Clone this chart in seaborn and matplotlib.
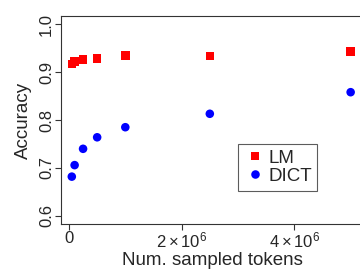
import matplotlib
matplotlib.use("Agg")
import matplotlib.pyplot as plt
import seaborn as sns
import pandas as pd

# data
tokens = [50000, 100000, 250000, 500000, 1000000, 2500000, 5000000]
lm_acc = [0.917, 0.922, 0.926, 0.928, 0.935, 0.933, 0.943]
dict_acc = [0.682, 0.706, 0.740, 0.764, 0.785, 0.813, 0.858]
x_ticks = [0, 2000000, 4000000]
x_ticklabels = ["0", r"$2\times10^6$", r"$4\times10^6$"]
y_ticks = [0.6, 0.7, 0.8, 0.9, 1.0]

df = pd.concat([
    pd.DataFrame({"tokens": tokens, "acc": lm_acc, "method": "LM"}),
    pd.DataFrame({"tokens": tokens, "acc": dict_acc, "method": "DICT"}),
])

sns.set_style("ticks")
plt.rcParams["font.family"] = ["Liberation Sans", "DejaVu Sans"]
plt.rcParams["mathtext.fontset"] = "custom"
plt.rcParams["mathtext.rm"] = "Liberation Sans"
plt.rcParams["mathtext.it"] = "Liberation Sans"

fig = plt.figure(figsize=(3.6, 2.72), dpi=100)
ax = fig.add_axes([0.1694, 0.1765, 0.8306 + 0.01, 0.7645])

sns.scatterplot(data=df, x="tokens", y="acc", hue="method", style="method",
                palette={"LM": "#ff0000", "DICT": "#0000ff"},
                markers={"LM": "s", "DICT": "o"}, s=38, linewidth=0,
                ax=ax)

ax.set_xlim(-142000, 5230000)
ax.set_ylim(0.5833, 1.0167)
ax.set_xticks(x_ticks)
ax.set_xticklabels(x_ticklabels, fontsize=12)
ax.set_yticks(y_ticks)
ax.set_yticklabels([f"{v:.1f}" for v in y_ticks], fontsize=12, rotation=90,
                   va="center")
ax.tick_params(axis="both", length=4, width=0.8, color="#333333")
ax.tick_params(axis="y", pad=1)
ax.tick_params(axis="x", pad=1)
for side in ["left", "bottom", "top", "right"]:
    ax.spines[side].set_visible(True)
    ax.spines[side].set_color("#333333")
    ax.spines[side].set_linewidth(0.8)

ax.set_xlabel("Num. sampled tokens", fontsize=13.5, labelpad=1)
ax.set_ylabel("Accuracy", fontsize=13.5, labelpad=5)

leg = ax.legend(loc="upper left", bbox_to_anchor=(0.585, 0.384), fontsize=13.5,
                frameon=True, fancybox=False, edgecolor="#333333",
                handletextpad=0.1, borderpad=0.3, labelspacing=0.05,
                handlelength=1.2, borderaxespad=0)
leg.get_frame().set_linewidth(0.8)

fig.savefig("out.png", dpi=100)
